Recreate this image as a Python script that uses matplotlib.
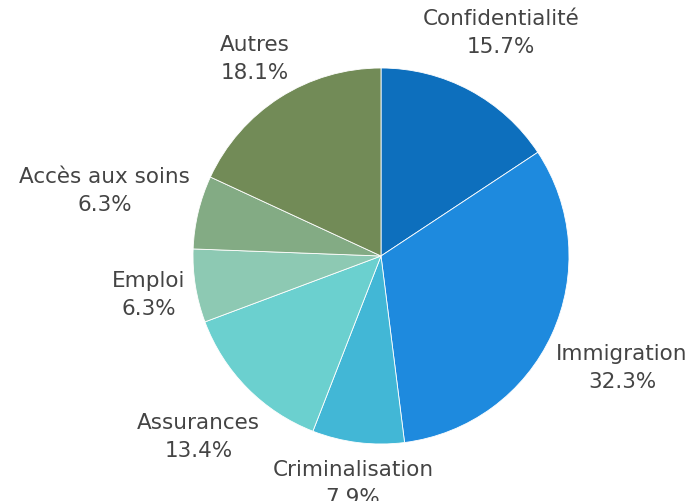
import numpy as np
import matplotlib.pyplot as plt

labels = ['Confidentialité', 'Immigration', 'Criminalisation', 'Assurances',
          'Emploi', 'Accès aux soins', 'Autres']
values = [15.7, 32.3, 7.9, 13.4, 6.3, 6.3, 18.1]
colors = ['#0d6fbd', '#1e8ade', '#42b7d6', '#6bd0cf', '#8dc9b3', '#83ab84', '#728b57']

plt.rcParams['font.family'] = ['DejaVu Sans']

W, H = 697, 502
fig = plt.figure(figsize=(W / 100, H / 100), dpi=100)
ax = fig.add_axes([0, 0, 1, 1])

# work in pixel units so the circle sits where it should
cx, cy, R = 381, 245, 188
wedges, _ = ax.pie(values, colors=colors, startangle=90, counterclock=False,
                   center=(cx, cy), radius=R,
                   wedgeprops=dict(edgecolor='white', linewidth=0.6))
ax.set_xlim(0, W)
ax.set_ylim(0, H)
ax.set_aspect('equal')
ax.axis('off')

renderer = fig.canvas.get_renderer()
for w, lab, v in zip(wedges, labels, values):
    ang = np.deg2rad((w.theta1 + w.theta2) / 2)
    c, s = np.cos(ang), np.sin(ang)
    t = ax.text(0, 0, f'{lab}\n{v:.1f}%', ha='center', va='center',
                multialignment='center', fontsize=15.5, color='#444444',
                linespacing=1.5)
    bb = t.get_window_extent(renderer)
    # push the label box out until its edge clears the circle
    d = bb.width / 2 * abs(c) + bb.height / 2 * abs(s)
    r = R * 1.04 + d
    t.set_position((cx + r * c, cy + r * s))

fig.savefig('out.png', dpi=100)
